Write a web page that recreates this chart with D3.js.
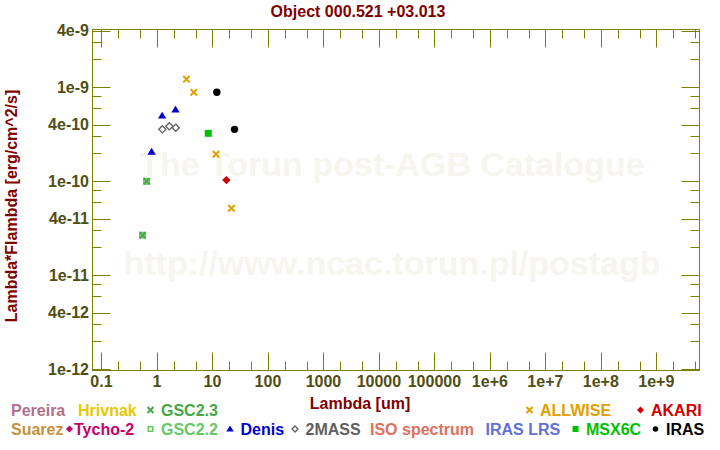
<!DOCTYPE html>
<html>
<head>
<meta charset="utf-8">
<script src="https://cdn.jsdelivr.net/npm/d3@7"></script>
<style>
    body { margin: 0; background: #fff; }
    svg { display: block; font-family: Arial, "Liberation Sans", Helvetica, sans-serif; font-weight: bold; }
</style>
</head>
<body>
<svg id="chart" width="720" height="450"></svg>
<script>
// Photometry: wavelength [um] and lambda*F_lambda [erg/cm^2/s]
const allwiseLambda = [3.4, 4.6, 11.6, 22.0];
const allwiseFlux = [1.22e-9, 8.85e-10, 1.94e-10, 5.17e-11];
const irasLambda = [12, 25];
const irasFlux = [8.85e-10, 3.57e-10];
const denisLambda = [0.80, 1.24, 2.16];
const denisFlux = [2.06e-10, 4.99e-10, 5.78e-10];
const twomassLambda = [1.25, 1.67, 2.18];
const twomassFlux = [3.57e-10, 3.85e-10, 3.72e-10];
const msxLambda = [8.4];
const msxFlux = [3.24e-10];
const akariLambda = [17.8];
const akariFlux = [1.03e-10];
const gsc22Lambda = [0.55, 0.65];
const gsc22Flux = [2.67e-11, 1.0e-10];
const gsc23Lambda = [0.55, 0.65];
const gsc23Flux = [2.67e-11, 1.0e-10];

// Axis ticks
const xMajorTicks = [1e-1, 1, 1e1, 1e2, 1e3, 1e4, 1e5, 1e6, 1e7, 1e8, 1e9];
const xTickLabels = ['0.1', '1', '10', '100', '1000', '10000', '100000', '1e+6', '1e+7', '1e+8', '1e+9'];
const yMajorTicks = [4e-9, 1e-9, 4e-10, 1e-10, 4e-11, 1e-11, 4e-12, 1e-12];
const yTickLabels = ['4e-9', '1e-9', '4e-10', '1e-10', '4e-11', '1e-11', '4e-12', '1e-12'];

// Legend entries
const legendRow1 = ['Pereira', 'Hrivnak', 'GSC2.3', 'ALLWISE', 'AKARI'];
const legendRow2 = ['Suarez', 'Tycho-2', 'GSC2.2', 'Denis', '2MASS', 'ISO spectrum', 'IRAS LRS', 'MSX6C', 'IRAS'];

const colors = {
    'Pereira': '#b0708c', 'Hrivnak': '#e8c800', 'GSC2.3': '#44a844', 'ALLWISE': '#e0a000',
    'AKARI': '#d00000', 'Suarez': '#c8903c', 'Tycho-2': '#c8006a', 'GSC2.2': '#66c866',
    'Denis': '#0000cc', '2MASS': '#606060', 'ISO spectrum': '#e07060', 'IRAS LRS': '#6070d8',
    'MSX6C': '#00c000', 'IRAS': '#000000'
};
const markerType = {
    'GSC2.3': 'cross', 'ALLWISE': 'cross', 'AKARI': 'diamond', 'Tycho-2': 'diamond',
    'GSC2.2': 'osquare', 'Denis': 'triangle', '2MASS': 'odiamond', 'MSX6C': 'square', 'IRAS': 'circle'
};

const axisColor = '#808000';
const tickTextColor = '#4f4f14';
const titleColor = '#800000';

const plotLeft = 92.5, plotRight = 699.5, plotTop = 29.5, plotBottom = 370.5;

const svg = d3.select('#chart');

const x = d3.scaleLog()
    .domain([Math.pow(10, -1.162), Math.pow(10, 9.778)])
    .range([plotLeft, plotRight]);
const y = d3.scaleLog()
    .domain([Math.pow(10, -12.013), Math.pow(10, -8.385)])
    .range([plotBottom, plotTop]);

// Watermark
const cx = (plotLeft + plotRight) / 2;
svg.append('text').attr('x', cx - 4).attr('y', 176).attr('text-anchor', 'middle')
    .attr('font-size', 34).attr('fill', '#f7f5ef').text('The Torun post-AGB Catalogue');
svg.append('text').attr('x', cx - 4).attr('y', 275).attr('text-anchor', 'middle')
    .attr('font-size', 34).attr('fill', '#f7f5ef').text('http://www.ncac.torun.pl/postagb');

// Title and axis labels
svg.append('text').attr('x', 358).attr('y', 17).attr('text-anchor', 'middle')
    .attr('font-size', 16).attr('fill', titleColor).text('Object 000.521 +03.013');
svg.append('text').attr('x', 360).attr('y', 409).attr('text-anchor', 'middle')
    .attr('font-size', 16).attr('fill', titleColor).text('Lambda [um]');
svg.append('text').attr('transform', 'translate(16.5,206) rotate(-90)').attr('text-anchor', 'middle')
    .attr('font-size', 16).attr('fill', titleColor).text('Lambda*Flambda [erg/cm^2/s]');

// Ticks on all four sides
const ticks = svg.append('g').attr('stroke', axisColor).attr('stroke-width', 1);
const longLen = 18, shortLen = 9;

const xMinor = [];
xMajorTicks.forEach(v => [2, 5].forEach(m => xMinor.push(v * m)));
const xAll = xMajorTicks.map(v => ({ v, len: longLen }))
    .concat(xMinor.filter(v => x(v) > plotLeft && x(v) < plotRight).map(v => ({ v, len: shortLen })));
xAll.forEach(t => {
    const px = Math.round(x(t.v)) + 0.5;
    ticks.append('line').attr('x1', px).attr('x2', px).attr('y1', plotBottom).attr('y2', plotBottom - t.len);
    ticks.append('line').attr('x1', px).attr('x2', px).attr('y1', plotTop).attr('y2', plotTop + t.len);
});

const yMinor = [];
[1e-12, 1e-11, 1e-10, 1e-9].forEach(d => [2, 3, 6, 8].forEach(m => yMinor.push(d * m)));
const yAll = yMajorTicks.map(v => ({ v, len: longLen }))
    .concat(yMinor.filter(v => y(v) > plotTop && y(v) < plotBottom).map(v => ({ v, len: shortLen })));
yAll.forEach(t => {
    const py = Math.round(y(t.v)) + 0.5;
    ticks.append('line').attr('y1', py).attr('y2', py).attr('x1', plotLeft).attr('x2', plotLeft + t.len);
    ticks.append('line').attr('y1', py).attr('y2', py).attr('x1', plotRight).attr('x2', plotRight - t.len);
});

// Frame
svg.append('rect').attr('x', plotLeft).attr('y', plotTop)
    .attr('width', plotRight - plotLeft).attr('height', plotBottom - plotTop)
    .attr('fill', 'none').attr('stroke', axisColor).attr('stroke-width', 1);

// Tick labels
svg.append('g').selectAll('text').data(xMajorTicks).join('text')
    .attr('x', d => x(d)).attr('y', 387).attr('text-anchor', 'middle')
    .attr('font-size', 16).attr('fill', tickTextColor)
    .text((d, i) => xTickLabels[i]);
svg.append('g').selectAll('text').data(yMajorTicks).join('text')
    .attr('x', 89).attr('y', d => y(d)).attr('dy', '0.36em').attr('text-anchor', 'end')
    .attr('font-size', 16).attr('fill', tickTextColor)
    .text((d, i) => yTickLabels[i]);

// Marker drawing
function marker(g, type, color, s) {
    if (type === 'cross') {
        g.append('path').attr('d', `M${-s},${-s}L${s},${s}M${-s},${s}L${s},${-s}`)
            .attr('stroke', color).attr('stroke-width', 2).attr('fill', 'none');
    } else if (type === 'diamond') {
        g.append('path').attr('d', `M0,${-s}L${s},0L0,${s}L${-s},0Z`).attr('fill', color);
    } else if (type === 'odiamond') {
        g.append('path').attr('d', `M0,${-s}L${s},0L0,${s}L${-s},0Z`)
            .attr('fill', 'none').attr('stroke', color).attr('stroke-width', 1.3);
    } else if (type === 'square') {
        g.append('rect').attr('x', -s).attr('y', -s).attr('width', 2 * s).attr('height', 2 * s).attr('fill', color);
    } else if (type === 'osquare') {
        g.append('rect').attr('x', -s + 0.75).attr('y', -s + 0.75).attr('width', 2 * s - 1.5).attr('height', 2 * s - 1.5)
            .attr('fill', 'none').attr('stroke', color).attr('stroke-width', 1.5);
    } else if (type === 'triangle') {
        g.append('path').attr('d', `M0,${-s * 1.05}L${s * 1.1},${s * 0.75}L${-s * 1.1},${s * 0.75}Z`).attr('fill', color);
    } else if (type === 'circle') {
        g.append('circle').attr('r', s).attr('fill', color);
    }
}

const series = [
    ['GSC2.2', gsc22Lambda, gsc22Flux, 3.5],
    ['GSC2.3', gsc23Lambda, gsc23Flux, 3],
    ['2MASS', twomassLambda, twomassFlux, 3.6],
    ['Denis', denisLambda, denisFlux, 3.8],
    ['MSX6C', msxLambda, msxFlux, 3.5],
    ['AKARI', akariLambda, akariFlux, 4.2],
    ['IRAS', irasLambda, irasFlux, 3.7],
    ['ALLWISE', allwiseLambda, allwiseFlux, 3.2]
];
const points = svg.append('g');
series.forEach(([name, lam, flux, s]) => {
    lam.forEach((l, i) => {
        const g = points.append('g').attr('transform', `translate(${x(l)},${y(flux[i])})`);
        marker(g, markerType[name], colors[name], s);
    });
});

// Legend
const legendRow1X = [11, 78, 147, 526, 637];
const legendRow2X = [11, 66, 147, 226.5, 291.5, 370, 485.5, 572, 652];
const legendSize = { cross: 3, diamond: 3.5, osquare: 3, triangle: 3.4, odiamond: 3, square: 3, circle: 2.8 };
function drawLegendRow(names, xs, baseline) {
    names.forEach((name, i) => {
        let tx = xs[i];
        const type = markerType[name];
        if (type) {
            const gap = name === 'Tycho-2' ? 8 : 14;
            const g = svg.append('g').attr('transform', `translate(${tx + 3.5},${baseline - 6})`);
            marker(g, type, colors[name], legendSize[type]);
            tx += gap;
        }
        svg.append('text').attr('x', tx).attr('y', baseline).attr('font-size', 16)
            .attr('fill', colors[name]).text(name);
    });
}
drawLegendRow(legendRow1, legendRow1X, 416);
drawLegendRow(legendRow2, legendRow2X, 435);
</script>
</body>
</html>
